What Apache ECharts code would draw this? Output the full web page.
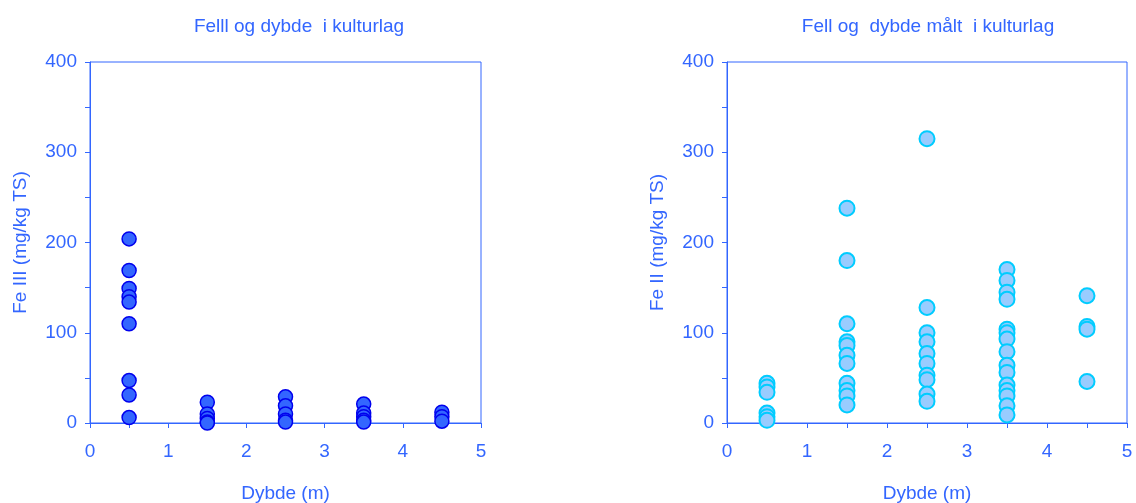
<!DOCTYPE html>
<html><head><meta charset="utf-8">
<script src="https://cdn.jsdelivr.net/npm/echarts@6/dist/echarts.min.js"></script>
<style>html,body{margin:0;padding:0;background:#fff}#c{width:1136px;height:503px}</style>
</head><body><div id="c"></div>
<script>
// Left chart: Fe III by depth
const titleLeft = "Felll og dybde  i kulturlag";
const titleRight = "Fell og  dybde målt  i kulturlag";
const xName = "Dybde (m)";
const yNameLeft = "Fe III (mg/kg TS)";
const yNameRight = "Fe II (mg/kg TS)";
const depths = [0.5, 1.5, 2.5, 3.5, 4.5];
const feIII = [
  [204, 169, 149, 140, 134, 110, 47, 31, 6],
  [23, 10, 5, 1, 0],
  [29, 19, 10, 3, 1],
  [21, 11, 7, 3, 1],
  [12, 7, 2]
];
const feII = [
  [44, 40, 34, 11, 7, 3],
  [238, 180, 110, 90, 86, 75, 66, 44, 36, 30, 20],
  [315, 128, 100, 90, 77, 66, 53, 48, 32, 24],
  [170, 158, 145, 137, 104, 100, 93, 79, 64, 56, 42, 36, 30, 19, 9],
  [141, 107, 104, 46]
];

function pairs(groups){const out=[];groups.forEach((g,i)=>g.forEach(v=>out.push([depths[i],v])));return out;}

const C = '#3366FF';
const FONT = 'Liberation Sans, Arial, sans-serif';
function xAxis(gi){return {gridIndex:gi,type:'value',min:0,max:5,interval:0.5,
  name:xName,nameLocation:'middle',nameGap:61,nameTextStyle:{color:C,fontSize:19,fontFamily:FONT},
  axisLine:{show:true,onZero:false,lineStyle:{color:C,width:1}},
  axisTick:{show:true,length:5,lineStyle:{color:C}},
  axisLabel:{color:C,fontSize:19,fontFamily:FONT,margin:19,formatter:v=>Number.isInteger(v)?String(v):''},
  splitLine:{show:false}};}
function yAxis(gi,name){return {gridIndex:gi,type:'value',min:0,max:400,interval:50,
  name:name,nameLocation:'middle',nameGap:60,nameTextStyle:{color:C,fontSize:19,fontFamily:FONT},
  axisLine:{show:true,onZero:false,lineStyle:{color:C,width:1}},
  axisTick:{show:true,length:5,lineStyle:{color:C}},
  axisLabel:{color:C,fontSize:19,fontFamily:FONT,margin:13,formatter:v=>v%100===0?String(v):''},
  splitLine:{show:false}};}

const chart = echarts.init(document.getElementById('c'),null,{renderer:'canvas'});
chart.setOption({
  animation:false,
  backgroundColor:'#fff',
  title:[
    {text:titleLeft,left:294,top:12,textAlign:'center',textStyle:{color:C,fontSize:19,fontWeight:'normal',fontFamily:FONT}},
    {text:titleRight,left:923,top:12,textAlign:'center',textStyle:{color:C,fontSize:19,fontWeight:'normal',fontFamily:FONT}}
  ],
  grid:[
    {left:90,right:655,top:62,bottom:80,containLabel:false,outerBoundsMode:'none',show:true,borderColor:C,borderWidth:1,backgroundColor:'transparent'},
    {left:727,right:9,top:62,bottom:80,containLabel:false,outerBoundsMode:'none',show:true,borderColor:C,borderWidth:1,backgroundColor:'transparent'}
  ],
  xAxis:[xAxis(0),xAxis(1)],
  yAxis:[yAxis(0,yNameLeft),yAxis(1,yNameRight)],
  series:[
    {type:'scatter',xAxisIndex:0,yAxisIndex:0,data:pairs(feIII),symbolSize:14,
     itemStyle:{color:'#3366FF',borderColor:'#0000EE',borderWidth:1.5,opacity:1}},
    {type:'scatter',xAxisIndex:1,yAxisIndex:1,data:pairs(feII),symbolSize:15,
     itemStyle:{color:'#99CCFF',borderColor:'#00CCFF',borderWidth:2,opacity:1}}
  ]
});
</script></body></html>
